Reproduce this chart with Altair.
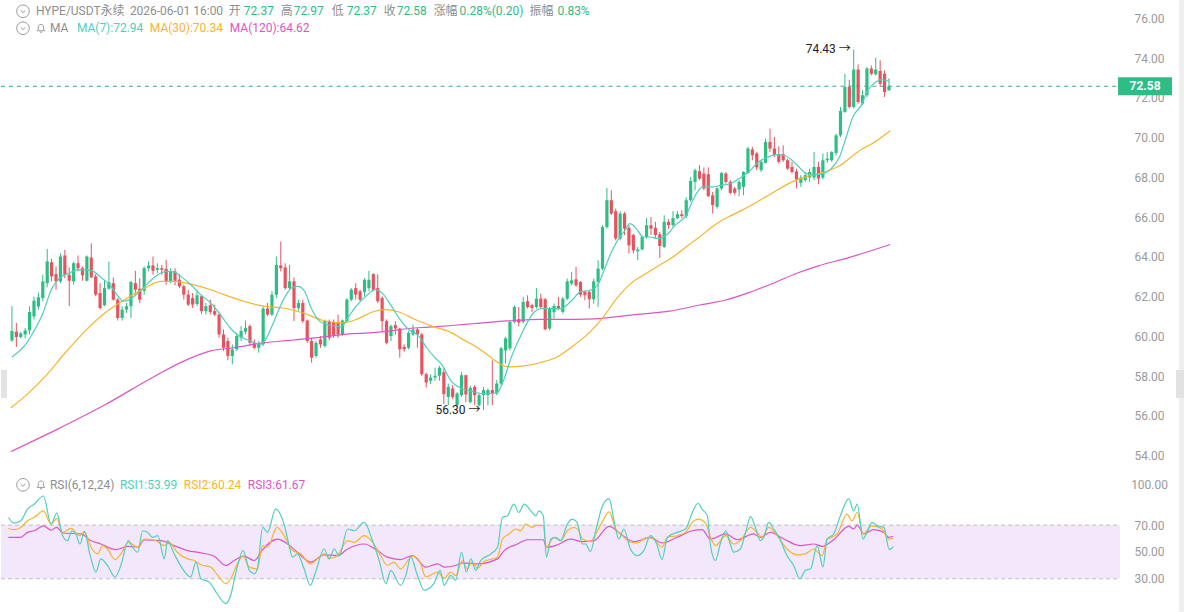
import altair as alt
import pandas as pd
import numpy as np

# ---------------- data ----------------
opens = [
    59.80, 60.23, 59.97, 60.10, 60.30, 61.00, 61.50, 61.93, 62.68, 63.73,
    63.13, 62.77, 64.07, 63.10, 62.77, 63.68, 63.43, 62.80, 63.97, 63.02,
    62.18, 61.57, 62.40, 62.68, 61.85, 60.93, 61.35, 61.52, 62.68, 62.40,
    62.30, 63.43, 63.57, 63.35, 63.43, 63.40, 62.77, 63.27, 62.85, 62.52,
    62.10, 61.93, 61.63, 62.02, 61.27, 61.57, 61.27, 61.10, 60.10, 59.77,
    59.02, 59.35, 59.93, 60.23, 60.52, 59.68, 59.43, 59.60, 61.40, 61.10,
    62.10, 63.57, 63.47, 62.43, 62.77, 61.43, 61.68, 60.80, 59.77, 59.02,
    59.85, 59.52, 60.77, 60.73, 60.73, 60.10, 60.77, 61.85, 62.43, 62.27,
    62.23, 62.43, 63.13, 62.43, 61.93, 60.77, 60.02, 60.57, 60.40, 59.47,
    59.43, 60.10, 60.35, 60.10, 58.10, 57.77, 57.93, 58.02, 58.20, 56.96,
    57.38, 56.54, 57.05, 58.05, 56.70, 57.46, 56.54, 57.05, 57.05, 57.30,
    57.13, 57.63, 59.30, 59.40, 60.73, 60.87, 60.73, 61.77, 61.57, 61.48,
    61.90, 61.87, 60.40, 61.23, 61.53, 61.23, 61.90, 62.66, 62.87, 62.74,
    62.23, 62.23, 61.87, 62.74, 63.41, 65.50, 66.85, 66.30, 64.92, 66.18,
    65.46, 65.10, 64.28, 64.37, 65.00, 65.59, 65.46, 65.13, 64.50, 65.76,
    65.60, 65.95, 66.15, 66.05, 66.85, 67.77, 68.31, 68.19, 68.16, 67.10,
    66.52, 67.44, 68.19, 67.77, 67.44, 67.39, 67.52, 68.22, 69.40, 69.20,
    68.36, 68.73, 69.78, 69.45, 69.16, 69.16, 68.86, 68.52, 68.30, 67.72,
    67.86, 67.99, 67.99, 68.52, 67.99, 68.86, 68.86, 69.23, 70.11, 71.29,
    72.54, 71.54, 73.42, 71.71, 72.13, 73.47, 73.18, 73.35, 73.21, 72.37,
]
highs = [
    61.52, 60.68, 60.23, 60.43, 61.52, 62.00, 62.20, 63.10, 64.40, 63.90,
    63.52, 64.18, 64.35, 63.47, 63.77, 64.07, 63.52, 64.07, 64.68, 63.13,
    62.68, 62.85, 63.77, 62.97, 61.93, 61.52, 61.68, 62.80, 63.30, 62.93,
    63.52, 63.77, 64.02, 63.68, 63.60, 63.85, 63.43, 63.43, 63.13, 62.60,
    62.35, 62.18, 62.35, 62.10, 61.68, 61.85, 61.60, 61.18, 60.35, 59.93,
    59.60, 60.18, 60.52, 60.80, 60.60, 59.85, 59.77, 61.52, 61.68, 62.27,
    64.02, 64.77, 63.68, 63.60, 62.97, 61.85, 61.85, 60.85, 59.93, 59.77,
    60.02, 60.85, 60.85, 60.85, 61.10, 60.85, 61.93, 62.43, 62.68, 62.35,
    62.93, 63.30, 63.18, 63.13, 62.02, 60.85, 60.60, 60.77, 60.43, 59.60,
    60.27, 60.60, 60.43, 60.18, 58.18, 58.10, 58.43, 58.52, 58.40, 57.63,
    57.55, 57.20, 58.22, 58.08, 57.52, 57.55, 57.13, 57.46, 57.38, 58.80,
    57.80, 59.47, 59.98, 60.82, 61.57, 61.48, 61.99, 62.07, 61.65, 62.44,
    62.15, 61.94, 61.48, 61.65, 61.99, 61.99, 62.91, 63.24, 63.50, 62.78,
    62.32, 62.32, 62.91, 63.83, 65.59, 67.47, 67.35, 66.43, 66.30, 66.26,
    65.59, 65.17, 64.50, 65.08, 65.96, 66.00, 65.76, 65.25, 66.09, 65.90,
    66.30, 66.30, 66.35, 67.00, 68.02, 68.44, 68.61, 68.50, 68.50, 67.27,
    67.52, 68.27, 68.27, 67.86, 67.52, 67.86, 68.31, 69.53, 69.53, 69.28,
    68.86, 69.95, 70.45, 70.03, 69.56, 69.61, 68.94, 68.78, 68.44, 68.11,
    68.27, 68.44, 69.28, 68.78, 69.20, 69.28, 69.31, 70.20, 71.54, 73.21,
    72.91, 74.43, 73.68, 72.38, 73.55, 73.63, 74.02, 73.89, 73.38, 72.97,
]
lows = [
    59.73, 59.47, 59.90, 59.90, 60.10, 60.85, 61.35, 61.77, 62.47, 62.77,
    62.35, 62.68, 62.93, 61.52, 62.60, 63.27, 62.80, 62.77, 62.93, 62.02,
    61.35, 61.52, 62.35, 61.80, 60.80, 60.80, 61.18, 60.93, 62.10, 61.68,
    62.10, 63.27, 63.10, 63.18, 63.10, 62.60, 62.68, 62.57, 62.43, 61.85,
    61.52, 61.43, 61.52, 61.13, 61.10, 61.10, 61.02, 59.93, 59.27, 58.80,
    58.60, 59.27, 59.77, 60.10, 59.52, 59.35, 59.18, 59.52, 61.02, 61.02,
    61.93, 63.27, 62.35, 62.35, 60.77, 61.30, 60.68, 59.68, 58.68, 58.93,
    59.43, 59.43, 59.80, 59.93, 59.93, 60.02, 60.68, 61.77, 61.85, 61.77,
    62.02, 62.27, 62.27, 61.68, 60.27, 59.60, 59.77, 60.10, 58.93, 59.23,
    59.35, 60.02, 59.43, 58.00, 57.43, 57.60, 57.77, 57.77, 56.60, 56.54,
    56.84, 56.46, 56.96, 56.70, 56.63, 56.54, 56.46, 56.30, 56.54, 56.54,
    57.05, 57.55, 58.64, 59.30, 60.65, 60.50, 60.65, 61.40, 61.23, 61.40,
    61.40, 60.31, 60.31, 60.90, 61.32, 61.15, 61.82, 62.57, 62.49, 61.99,
    61.82, 61.40, 61.65, 61.48, 63.33, 65.42, 66.10, 64.83, 64.83, 65.10,
    64.17, 64.17, 63.83, 64.33, 64.92, 65.10, 64.92, 63.95, 64.45, 65.40,
    65.50, 65.90, 65.95, 65.95, 66.77, 67.35, 67.86, 67.35, 67.02, 66.18,
    66.43, 67.35, 67.69, 67.15, 67.10, 67.05, 67.10, 68.19, 68.86, 68.36,
    68.27, 68.69, 69.28, 69.03, 68.69, 68.78, 68.36, 68.19, 67.44, 67.52,
    67.77, 67.77, 67.86, 67.65, 67.89, 68.73, 68.78, 69.11, 70.03, 71.24,
    71.46, 71.46, 71.71, 71.63, 72.04, 73.13, 73.13, 72.55, 72.04, 72.37,
]
closes = [
    60.27, 59.97, 60.15, 60.30, 61.23, 61.80, 61.97, 62.77, 63.77, 63.02,
    62.77, 64.02, 63.10, 62.80, 63.68, 63.43, 63.07, 64.02, 62.97, 62.10,
    61.43, 62.43, 62.73, 61.85, 60.93, 61.35, 61.52, 62.73, 62.35, 61.85,
    63.43, 63.57, 63.30, 63.43, 63.35, 62.77, 63.27, 62.80, 62.52, 62.10,
    61.60, 61.60, 62.07, 61.27, 61.52, 61.23, 61.10, 60.10, 59.43, 59.02,
    59.35, 60.02, 60.27, 60.43, 59.68, 59.43, 59.63, 61.40, 61.10, 62.10,
    63.60, 63.43, 62.43, 62.77, 61.43, 61.68, 60.77, 59.77, 58.93, 59.68,
    59.60, 60.77, 59.93, 60.02, 60.10, 60.80, 61.85, 62.35, 62.10, 61.85,
    62.85, 62.85, 62.35, 61.77, 60.77, 59.68, 60.52, 60.40, 59.35, 59.35,
    60.18, 60.35, 60.10, 58.10, 57.68, 57.93, 58.02, 58.43, 57.10, 57.46,
    56.96, 57.13, 58.05, 57.08, 57.41, 57.05, 57.05, 57.30, 57.30, 57.13,
    57.63, 59.40, 59.90, 60.73, 61.48, 60.70, 61.74, 61.48, 61.43, 61.90,
    61.48, 60.36, 61.40, 61.53, 61.40, 61.90, 62.77, 62.82, 62.57, 62.10,
    62.07, 61.87, 62.77, 63.41, 65.50, 66.85, 66.18, 64.92, 66.18, 65.42,
    64.58, 64.33, 64.37, 65.00, 65.59, 65.42, 65.10, 64.55, 65.76, 65.60,
    65.95, 66.15, 66.05, 66.85, 67.82, 68.36, 67.94, 67.44, 67.05, 66.60,
    67.44, 68.22, 67.77, 67.22, 67.22, 67.77, 68.27, 69.45, 69.11, 68.50,
    68.78, 69.78, 69.45, 69.11, 68.78, 68.86, 68.44, 68.27, 67.89, 67.99,
    68.11, 68.27, 68.52, 67.94, 68.86, 68.94, 69.28, 70.11, 71.34, 72.54,
    71.54, 73.42, 71.79, 72.13, 73.47, 73.21, 73.42, 72.71, 72.29, 72.58,
]

ma7_idx = [0, 3.1, 5, 6.9, 9.1, 11, 12.9, 14.8, 17, 18.5, 20.4, 22.2, 24.1, 25.2, 26.7, 28.6,
           30.9, 33.1, 35.4, 36.9, 38.3, 40.6, 42.8, 45.1, 47.3, 49.6, 51.1, 54.1, 56.3, 57.8,
           59.3, 61.6, 63.4, 64.9, 66.4, 67.9, 69.8, 71.3, 73.6, 74.7, 76.2, 78.1, 80.3, 82.5,
           84, 85.9, 87.8, 90, 92.3, 94.1, 96, 97.5, 99.7, 102, 104.2, 106.5, 108.7, 110.2,
           111.7, 113.2, 115.5, 117, 118.5, 120, 122.2, 124.5, 126.7, 129, 131.2, 133.1,
           134.2, 135.7, 137.2, 139.1, 140.2, 141.7, 143.2, 144.7, 146.9, 149.2, 150.5, 153,
           154.5, 156.7, 159, 160.8, 163.1, 165, 167.2, 169.4, 171.7, 173.2, 175.1, 177,
           178.4, 180.3, 182.2, 184.1, 185.9, 187.8, 189.3, 190.8, 192.7, 194.2, 196, 197.5,
           198.7, 199]
ma7_val = [58.97, 59.6, 60.27, 61.1, 62.43, 62.97, 63.18, 63.35, 63.35, 63.27, 62.93, 62.6,
           62.02, 61.77, 61.85, 62.18, 62.68, 63.1, 63.27, 63.23, 63.02, 62.6, 62.1, 61.68,
           61.1, 60.4, 60.1, 59.77, 59.6, 59.93, 60.68, 61.85, 62.43, 62.52, 62.27, 61.43,
           60.77, 60.6, 60.52, 60.47, 60.93, 61.52, 62.02, 62.35, 62.18, 61.6, 60.93, 60.35,
           60.02, 59.43, 58.93, 58.6, 57.74, 57.38, 57.25, 57.13, 57.13, 57.21, 57.88, 58.89,
           60.06, 60.73, 61.23, 61.4, 61.4, 61.4, 61.73, 62.24, 62.32, 62.66, 63.24, 64.08,
           64.75, 65.34, 65.67, 65.42, 65.0, 65.0, 64.92, 65.25, 65.6, 66.1, 66.85, 67.52,
           67.52, 67.6, 67.69, 67.94, 68.27, 68.78, 69.03, 69.14, 69.11, 68.86, 68.56, 68.19,
           68.14, 68.19, 68.44, 69.03, 70.03, 71.04, 71.62, 72.38, 72.8, 72.91, 72.85, 72.94]

ma30_idx = [-0.3, 3.5, 7.6, 12.1, 16.6, 21.1, 25.6, 30.1, 33.9, 36.9, 40.6, 45.1, 48.1, 52.6,
            57.1, 61.6, 66.1, 70.6, 75.1, 78.1, 81.8, 84.8, 87.8, 91.5, 95.3, 99.8, 102, 106.5,
            109.5, 112.5, 116.2, 120, 123.7, 127.5, 131.2, 134.2, 137.2, 140.2, 143.9, 147,
            150, 153, 156, 158.9, 161.2, 163.4, 166.4, 171.7, 177, 180.7, 184.4, 187.4, 191.9,
            196.4, 199.3]
ma30_val = [56.4, 57.1, 58.0, 59.18, 60.27, 61.18, 61.85, 62.43, 62.77, 62.77, 62.63, 62.35,
            62.1, 61.77, 61.52, 61.43, 61.18, 60.8, 60.68, 60.85, 61.23, 61.35, 61.23, 60.85,
            60.52, 60.18, 59.89, 59.31, 58.8, 58.47, 58.52, 58.69, 58.97, 59.56, 60.23, 60.98,
            61.9, 62.62, 63.16, 63.59, 64.0, 64.51, 65.0, 65.51, 65.85, 66.1, 66.43, 67.1,
            67.77, 68.06, 68.27, 68.53, 69.28, 69.87, 70.34]

ma120_idx = [-0.3, 10, 21, 32.4, 39.1, 45.1, 50.3, 57.1, 63.1, 67.6, 72.1, 76.5, 81, 85.5, 90,
             94.5, 99.8, 105, 112.5, 120, 127.5, 133.5, 138.7, 143.9, 149.2, 156, 162, 167.2,
             173, 178.4, 183, 189.7, 199.3]
ma120_val = [54.2, 55.3, 56.55, 58.0, 58.77, 59.27, 59.43, 59.68, 59.8, 59.9, 60.02, 60.13,
             60.18, 60.27, 60.4, 60.47, 60.55, 60.65, 60.78, 60.86, 60.86, 60.9, 61.03, 61.15,
             61.27, 61.58, 61.83, 62.2, 62.7, 63.2, 63.55, 63.95, 64.62]

rsi1_idx = [0.3, 1.6, 3.1, 4.6, 6.1, 8.2, 9.9, 11.2, 12.5, 13.6, 14.6, 15.5, 16.4, 17.4, 18.7,
            20, 21.1, 22.6, 24.3, 25.6, 27.3, 28.2, 29.4, 30.5, 31.6, 32.7, 33.9, 35.4, 36.1,
            37.6, 39.5, 41.3, 42.5, 43.6, 45.5, 47, 49.2, 50.3, 51.5, 53.1, 54.5, 55.6, 56.3,
            57.5, 58.6, 60.4, 62.3, 63.2, 64.2, 65.3, 66.8, 68.2, 69.4, 71.3, 72.4, 73.6, 74.7,
            76.6, 78.1, 80.3, 82.2, 83.7, 85.2, 86.3, 88.5, 89.7, 90.8, 92.3, 93.8, 96, 97.4,
            98.3, 99.8, 100.9, 102.2, 103.3, 104.3, 105.4, 106.5, 108.8, 110.3, 111.4, 112.5,
            114, 115.1, 116.3, 117.8, 118.9, 119.6, 120.6, 121.3, 122.3, 123.4, 124.5, 126,
            127.1, 128.2, 129.4, 130.1, 131.2, 132.4, 133.9, 135.4, 136.5, 137.6, 138.7, 140.2,
            141.7, 143.2, 144.7, 146.1, 147.3, 148.5, 150.7, 152.6, 154.1, 155.4, 156.3, 157.5,
            158.2, 159.3, 160.5, 161.6, 162.7, 163.4, 164.9, 166.1, 167.2, 168.3, 169.4, 170.2,
            171.3, 172.4, 173.6, 175.4, 176.9, 178.3, 179.5, 180.7, 182.2, 183.5, 184.4, 185.9,
            187.4, 189.3, 190.4, 191.2, 192.5, 193.4, 194.5, 195.7, 197.2, 198.4, 199.3]
rsi1_val = [75.7, 71.5, 73.2, 81.9, 85.6, 91.7, 70.7, 78.9, 62.1, 58.4, 65.8, 63.4, 55.9, 65.1,
            47.3, 35, 44.8, 39.9, 31.3, 39.9, 58.4, 53.5, 49.8, 65.8, 64.6, 60.9, 62.1, 44.8,
            58.4, 48.5, 37.4, 31.3, 42.4, 30, 27.5, 20.1, 11.5, 17.7, 35, 51, 36.2, 33.7, 37.4,
            68.3, 64.6, 81.9, 70.7, 58.4, 46.1, 48.5, 37.4, 25.1, 35, 52.2, 44.8, 52.2, 46.8,
            67.1, 65.8, 72, 58.4, 43.6, 26.3, 36.2, 25.1, 32.5, 46.1, 32.5, 21.4, 26.3, 36.2,
            25.1, 32.5, 28.8, 49.8, 35, 44.8, 36.2, 43.6, 48.5, 53.5, 75.7, 76.9, 85.6, 79.4,
            85.6, 80.6, 76.9, 80.6, 76.9, 46.1, 59.6, 60.9, 58.4, 70.7, 74.5, 72, 55.9, 55.9,
            50.3, 65.8, 84.3, 89.8, 73.2, 59.6, 67.1, 52.2, 47.3, 51, 62.1, 55.9, 44.3, 60.9,
            64.6, 67.1, 79.4, 86.3, 81.9, 76.9, 54.7, 43.6, 57.2, 65.8, 55.2, 49.8, 52.2, 64.6,
            76.4, 68.3, 58.4, 60.9, 72, 67.1, 60.9, 47.3, 39.9, 30, 36.2, 37.4, 54.7, 38.7,
            59.6, 63.4, 76.9, 89.8, 80.6, 85.6, 59.6, 64.6, 72, 69.5, 68.3, 51.7, 53.99]

rsi2_idx = [0.3, 1.6, 3.1, 4.6, 6.1, 8.2, 9.9, 11.2, 12.5, 14.4, 16.4, 17.4, 18.9, 20.4, 21.5,
            22.6, 24.3, 25.6, 27.3, 29.4, 30.9, 33.1, 35.4, 36.5, 38.3, 40.6, 42.1, 43.6, 45.8,
            47.3, 49.2, 50.3, 51.8, 53.1, 54.5, 56.3, 57.5, 58.6, 60.7, 62.3, 64.2, 66.1, 68.2,
            69.4, 71.3, 72.8, 74.3, 76.6, 78.1, 80.3, 82.5, 84, 85.5, 87, 88.5, 91.2, 92.7,
            94.2, 96.8, 98.3, 99.8, 100.9, 102.4, 103.5, 104.6, 105.8, 107.3, 110.3, 111.4,
            112.9, 114.4, 115.5, 116.6, 118.1, 119.2, 120.6, 121.3, 123, 124.5, 126, 127.5,
            128.6, 129.4, 131.2, 132.4, 134.2, 135.4, 136.9, 138.4, 140.2, 141.7, 144, 145.5,
            147.3, 148.5, 150.7, 152.6, 154.1, 155.4, 157.1, 158.2, 159.3, 161.6, 163.4, 164.9,
            167.2, 168.7, 169.8, 171.3, 173.2, 175.4, 177.7, 179.5, 181.4, 183.3, 184.4, 186.7,
            188.9, 190, 191.2, 192.5, 194.5, 196.8, 198.3, 199.3]
rsi2_val = [67.5, 66.6, 68.3, 73.2, 75.7, 80.6, 70.7, 75, 64.6, 67.5, 62.1, 65.1, 53.5, 48.5,
            54.7, 52.2, 44.3, 48.5, 57.2, 53.5, 59.6, 58.9, 54.7, 57.2, 49.8, 44.8, 43.6, 40.4,
            38.7, 33, 26.3, 30, 41.1, 46.8, 38.7, 37.4, 54.7, 53.5, 68.3, 62.1, 51, 48.5, 41.1,
            43.6, 48.5, 45.3, 47.3, 58.4, 57.2, 62.1, 55.9, 47.3, 39.9, 42.4, 37.4, 46.8, 43.6,
            31.3, 35, 30.5, 35, 32.5, 43.6, 37.4, 42.4, 37.9, 42.9, 46.1, 59.6, 63.4, 67.1,
            65.8, 70.7, 68.3, 70, 69.5, 53.5, 60.9, 58.4, 65.8, 68.3, 65.8, 59.6, 57.7, 63.4,
            74.5, 79.9, 67.1, 62.1, 57.2, 56.7, 60.9, 59.6, 53.5, 60.9, 62.1, 64.6, 72, 74.5,
            71.5, 60.9, 54.7, 62.1, 55.9, 58.4, 68.3, 64.6, 60.9, 68.3, 62.1, 52.2, 47.8, 48.5,
            52.2, 47.3, 59.1, 63.4, 78.2, 73.2, 79.4, 63.4, 69.5, 67.1, 59.6, 60.24]

rsi3_idx = [0.3, 3.1, 4.6, 6.1, 8.2, 9.9, 11.2, 12.5, 16.6, 18.9, 21.1, 24.5, 27.1, 29.4, 30.9,
            34.6, 37.6, 40.6, 43.6, 46.6, 49.2, 51.1, 53.3, 55.6, 57.5, 60.8, 63.1, 65.3, 68.3,
            71.3, 74.3, 76.6, 80.3, 83.3, 85.5, 88.5, 91.2, 94.2, 96.8, 98.3, 100.9, 102.4,
            105.8, 110.3, 111.8, 114.8, 117, 120.6, 121.3, 123.7, 126.7, 129.4, 132, 135.4,
            138, 141, 144.7, 147.3, 150.7, 154.1, 156.3, 158.2, 161.6, 164.2, 167.9, 169.4,
            171.7, 174.7, 178.4, 181.4, 183.3, 185.9, 189.3, 190.4, 191.2, 192.7, 194.9, 197.2,
            198.3, 199.3]
rsi3_val = [60.9, 60.9, 64.6, 65.8, 69.5, 66.3, 68.3, 64.1, 63.4, 58.4, 55.9, 51.7, 54.2, 53.5,
            58.9, 58.4, 54.7, 51, 49.3, 46.8, 39.9, 43.6, 46.8, 43.6, 51.7, 59.6, 55.9, 49.8,
            42.4, 47.8, 47.3, 52.2, 55.9, 51, 46.1, 44.3, 47.3, 38.7, 41.1, 38.7, 39.9, 41.9,
            41.1, 44.8, 51, 55.9, 59.1, 59.1, 53.5, 55.2, 59.6, 57.7, 58.4, 69, 63.4, 57.7,
            60.9, 56.7, 60.9, 65.8, 66.6, 59.6, 63.4, 59.1, 63.4, 60.9, 64.6, 59.6, 54.7, 55.9,
            54.2, 59.1, 69, 67.1, 70, 63.4, 66.6, 64.6, 60.9, 61.67]

price_ticks = [54, 56, 58, 60, 62, 64, 66, 68, 70, 72, 74, 76]
rsi_ticks = [30, 50, 70, 100]
last_price = 72.58
hi_mark = (191, 74.43)
lo_mark = (107, 56.30)

header1 = ["HYPE/USDT永续", "2026-06-01 16:00", "开", "72.37", "高", "72.97", "低", "72.37",
           "收", "72.58", "涨幅", "0.28%(0.20)", "振幅", "0.83%"]
header2 = ["MA(7):72.94", "MA(30):70.34", "MA(120):64.62"]
header3 = ["RSI1:53.99", "RSI2:60.24", "RSI3:61.67"]

# ---------------- style ----------------
FONT = "Roboto, 'Noto Sans CJK SC', 'DejaVu Sans', sans-serif"
UP = "#2EBD85"
DOWN = "#E5535F"
C7 = "#4FCFBD"
C30 = "#F7B52C"
C120 = "#DD55C4"
GRAY = "#8E8E8E"
W = 1120
H_TOP = 470
H_RSI = 142
X_DOM = [-1.35, 250.3]
P_DOM = [53.29, 76.905]
R_DOM = [5.4, 111.2]

xs = alt.Scale(domain=X_DOM, nice=False, zero=False)
ps = alt.Scale(domain=P_DOM, nice=False, zero=False)
rs = alt.Scale(domain=R_DOM, nice=False, zero=False)

PAXIS = alt.Axis(orient="right", values=price_ticks, format=".2f", ticks=False, domain=False,
                 grid=False, labelAlign="center", labelPadding=29, labelColor="#9A9A9A",
                 labelFontSize=12, labelFont=FONT, title=None)
RAXIS = alt.Axis(orient="right", values=rsi_ticks, format=".2f", ticks=False, domain=False,
                 grid=False, labelAlign="center", labelPadding=29, labelColor="#9A9A9A",
                 labelFontSize=12, labelFont=FONT, title=None)

cd = pd.DataFrame({"i": np.arange(len(opens)), "o": opens, "h": highs, "l": lows, "c": closes})
cd["dir"] = np.where(cd["c"] >= cd["o"], "up", "down")
col = alt.Color("dir:N", scale=alt.Scale(domain=["up", "down"], range=[UP, DOWN]), legend=None)
X = lambda f: alt.X(f, scale=xs, axis=None)
YP = lambda f: alt.Y(f, scale=ps, axis=PAXIS)
YR = lambda f: alt.Y(f, scale=rs, axis=RAXIS)


def txt(s, x, y, color, size=12, align="left", weight="normal"):
    return alt.Chart(pd.DataFrame({"t": [s]})).mark_text(
        align=align, baseline="middle", font=FONT, fontSize=size, color=color,
        fontWeight=weight).encode(x=alt.value(x), y=alt.value(y), text="t:N")


def icon(shape, x, y, size, filled=False):
    return alt.Chart(pd.DataFrame({"t": [0]})).mark_point(
        shape=shape, size=size, filled=filled, color="#9A9A9A", strokeWidth=1, opacity=1
    ).encode(x=alt.value(x), y=alt.value(y))


def box(x1, x2, y1, y2, color):
    return alt.Chart(pd.DataFrame({"t": [0]})).mark_rect(color=color).encode(
        x=alt.value(x1), x2=alt.value(x2), y=alt.value(y1), y2=alt.value(y2))


CHEV = "M-0.38,-0.14L0,0.22L0.38,-0.14"
BELL = "M-0.6,0.4L-0.42,0.15L-0.42,-0.2C-0.42,-0.75,0.42,-0.75,0.42,-0.2L0.42,0.15L0.6,0.4Z M-0.18,0.62L0.18,0.62"


def line(idx, val, color, yenc):
    df = pd.DataFrame({"i": idx, "v": val})
    return alt.Chart(df).mark_line(color=color, strokeWidth=1.2, interpolate="monotone").encode(
        x=X("i:Q"), y=yenc("v:Q"))


# ---------------- top panel ----------------
wicks = alt.Chart(cd).mark_rule(strokeWidth=1).encode(x=X("i:Q"), y=YP("l:Q"), y2="h:Q", color=col)
bodies = alt.Chart(cd).mark_bar(size=3.2).encode(x=X("i:Q"), y=YP("o:Q"), y2="c:Q", color=col)

lp = pd.DataFrame({"p": [last_price], "t": [f"{last_price:.2f}"]})
lp_rule = alt.Chart(lp).mark_rule(color="#3AA99A", strokeWidth=1, strokeDash=[4, 4]).encode(
    x=alt.value(0), x2=alt.value(1118), y=YP("p:Q"))
lp_box = alt.Chart(lp).mark_rule(color=UP, strokeWidth=18).encode(
    x=alt.value(1118), x2=alt.value(1172), y=YP("p:Q"))
lp_txt = alt.Chart(lp).mark_text(color="white", font=FONT, fontSize=12, fontWeight="bold",
                                 align="center", baseline="middle").encode(
    x=alt.value(1145), y=YP("p:Q"), text="t:N")

ann = pd.DataFrame({"i": [hi_mark[0], lo_mark[0]], "p": [hi_mark[1], lo_mark[1]],
                    "t": [f"{hi_mark[1]:.2f} →", f"{lo_mark[1]:.2f} →"]})
ann_txt = alt.Chart(ann).mark_text(align="right", baseline="middle", dx=-3, font=FONT,
                                   fontSize=12, color="#222222").encode(
    x=X("i:Q"), y=YP("p:Q"), text="t:N")

h1x = [35, 129, 228, 243, 280, 293, 331, 346, 383, 396, 433, 459, 529, 557]
h1c = [GRAY, GRAY] + [GRAY, UP] * 6
hdr = [txt(s, x, 11, c) for s, x, c in zip(header1, h1x, h1c)]
hdr += [txt("MA", 49, 28, GRAY)]
hdr += [txt(s, x, 28, c) for s, x, c in zip(header2, [76, 149, 229], [C7, C30, C120])]
ISZ = 160
icons_top = [icon("circle", 22, 11, ISZ), icon(CHEV, 22, 11, ISZ),
             icon("circle", 22, 28, ISZ), icon(CHEV, 22, 28, ISZ), icon(BELL, 40, 28, ISZ)]

decor_top = [box(1179, 1184, 0, 470, "#EFEFEF"), box(0, 6, 370, 398, "#E2E2E2"),
             box(1176, 1184, 370, 398, "#E2E2E2")]

top = alt.layer(
    *decor_top, lp_rule, wicks, bodies,
    line(ma120_idx, ma120_val, C120, YP),
    line(ma30_idx, ma30_val, C30, YP),
    line(ma7_idx, ma7_val, C7, YP),
    lp_box, lp_txt, ann_txt, *hdr, *icons_top,
).properties(width=W, height=H_TOP)

# ---------------- RSI panel ----------------
band = pd.DataFrame({"hi": [70], "lo": [30]})
band_rect = alt.Chart(band).mark_rect(color="#F3E7FC").encode(
    x=alt.value(0), x2=alt.value(W), y=YR("hi:Q"), y2="lo:Q")
band_lines = alt.Chart(pd.DataFrame({"v": [70, 30]})).mark_rule(
    color="#BDBDBD", strokeWidth=1, strokeDash=[4, 3]).encode(
    x=alt.value(0), x2=alt.value(W), y=YR("v:Q"))

hdr3 = [txt("RSI(6,12,24)", 49, 15, GRAY)]
hdr3 += [txt(s, x, 15, c) for s, x, c in zip(header3, [119, 183, 247], [C7, C30, C120])]
icons_bot = [icon("circle", 22, 15, ISZ), icon(CHEV, 22, 15, ISZ), icon(BELL, 40, 15, ISZ)]

bottom = alt.layer(
    box(1179, 1184, 0, H_RSI, "#EFEFEF"), band_rect, band_lines,
    line(rsi3_idx, rsi3_val, C120, YR),
    line(rsi2_idx, rsi2_val, C30, YR),
    line(rsi1_idx, rsi1_val, C7, YR),
    *hdr3, *icons_bot,
).properties(width=W, height=H_RSI)

chart = alt.vconcat(top, bottom, spacing=0).properties(
    padding=0, background="white"
).configure_view(stroke=None)

chart.save("out.html", embed_options={"renderer": "svg", "actions": False})
